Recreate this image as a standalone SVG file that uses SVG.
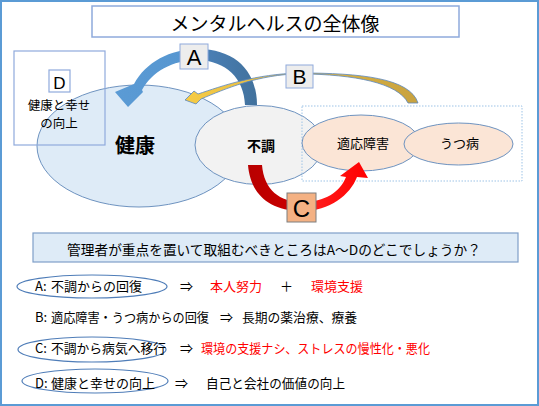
<svg xmlns="http://www.w3.org/2000/svg" width="539" height="406" viewBox="0 0 539 406">
<defs>
<style>
.jp{font-family:"Noto Sans CJK JP","Noto Sans",sans-serif;fill:#000}
.lat{font-family:"Liberation Sans","Noto Sans",sans-serif;fill:#000}
.red{fill:#FF0000}
.node{stroke:#6E93C0;stroke-width:1}
.lbl{stroke:#8FAADC;stroke-width:1.2}
.ring{fill:none;stroke:#4F7DB8;stroke-width:1.2}
</style>
<linearGradient id="gA" gradientUnits="userSpaceOnUse" x1="112" y1="0" x2="258" y2="0">
<stop offset="0" stop-color="#5B9BD5"/><stop offset="0.5" stop-color="#5696D0"/><stop offset="0.65" stop-color="#4A7FB5"/><stop offset="1" stop-color="#41719C"/>
</linearGradient>
<linearGradient id="gB" gradientUnits="userSpaceOnUse" x1="185" y1="0" x2="418" y2="0">
<stop offset="0" stop-color="#F6CB45"/><stop offset="1" stop-color="#C8A23F"/>
</linearGradient>
<linearGradient id="gC" gradientUnits="userSpaceOnUse" x1="248" y1="0" x2="368" y2="0">
<stop offset="0" stop-color="#B80000"/><stop offset="0.42" stop-color="#CC0000"/><stop offset="0.58" stop-color="#FF1A1A"/><stop offset="1" stop-color="#FF0000"/>
</linearGradient>
</defs>

<rect x="1" y="1" width="537" height="404" fill="#FFFFFF" stroke="#5B9BD5" stroke-width="2"/>

<g id="title">
<rect x="92" y="6" width="367" height="31" fill="#FFFFFF" stroke="#8FAADC" stroke-width="1.5"/>
<text class="jp" x="275" y="31" font-size="19" text-anchor="middle">メンタルヘルスの全体像</text>
</g>

<g id="node-health">
<ellipse cx="139" cy="146" rx="102" ry="61" fill="#DEEBF7" class="node"/>
<text class="jp" x="135" y="153" font-size="20" font-weight="bold" text-anchor="middle">健康</text>
</g>

<g id="node-d">
<rect x="14" y="51" width="91" height="94" fill="none" class="lbl"/>
<rect x="49" y="70" width="21" height="22" fill="#FFFFFF" class="lbl"/>
<text class="lat" x="59.5" y="88.5" font-size="17" text-anchor="middle">D</text>
<text class="jp" x="59" y="110" font-size="12.5" text-anchor="middle">健康と幸せ</text>
<text class="jp" x="59" y="128" font-size="12.5" text-anchor="middle">の向上</text>
</g>

<g id="node-fucho">
<ellipse cx="259" cy="145" rx="64" ry="39.5" fill="#F2F2F2" class="node"/>
<text class="jp" x="261" y="151" font-size="14" font-weight="bold" text-anchor="middle">不調</text>
</g>

<g id="group-illness">
<rect x="302" y="106" width="220" height="75" fill="none" stroke="#9DC3E6" stroke-width="1" stroke-dasharray="1.5,1.5"/>
</g>

<g id="node-tekiou">
<ellipse cx="361" cy="143" rx="59" ry="28" fill="#FBE5D6" class="node"/>
<text class="jp" x="363" y="148" font-size="13" text-anchor="middle">適応障害</text>
</g>

<g id="node-utsu">
<ellipse cx="458.5" cy="144" rx="54.5" ry="21" fill="#FBE5D6" class="node"/>
<text class="jp" x="459.5" y="148" font-size="13" text-anchor="middle">うつ病</text>
</g>

<g id="connectors">
<path id="arrow-a" fill="url(#gA)" d="M257,105 C257,72 236,49 198,49 C170,49 146,62 134,84 L115,92 L128,107 L143,92 L142,90 C152,72 172,60 198,60 C226,61 244,78 245,105 Z"/>
<path id="arrow-b" fill="url(#gB)" stroke="#5B87BD" stroke-width="0.8" stroke-linejoin="round" d="M418,103 C410,78 360,73 300,73 C255,74 222,86 198,94 L194,91 L185,100 L196,104 L201,99 C225,89 258,74.5 300,73.8 C355,74.5 398,83 408,103 Z"/>
<path id="arrow-c" fill="url(#gC)" d="M248,165 C250,190 265,211 302,211 C330,211 350,195 357,177 L368,178 L359,162 L340,176 L346,177 C340,192 325,202 302,202 C280,202 264,190 262,165 Z"/>
</g>

<g id="label-a">
<rect x="180" y="44" width="28" height="25" fill="#EDEDED" stroke="#8FAADC" stroke-width="1"/>
<text class="lat" x="194" y="65" font-size="22" text-anchor="middle">A</text>
</g>
<g id="label-b">
<rect x="286" y="65" width="27" height="23" fill="#EDEDED" stroke="#8FAADC" stroke-width="1"/>
<text class="lat" x="299.5" y="84" font-size="21" text-anchor="middle">B</text>
</g>
<g id="label-c">
<rect x="287" y="193" width="29" height="29" fill="#F4B183" stroke="#7F7F7F" stroke-width="1"/>
<text class="lat" x="301.5" y="216.5" font-size="24" text-anchor="middle">C</text>
</g>

<g id="question">
<rect x="33" y="233" width="485" height="29" fill="#DEEBF7" stroke="#7F9FC8" stroke-width="1.2"/>
<text class="jp" x="274" y="255" font-size="13.7" text-anchor="middle">管理者が重点を置いて取組むべきところはA～Dのどこでしょうか？</text>
</g>

<g id="row-a">
<ellipse cx="92" cy="286.5" rx="75" ry="11.5" class="ring"/>
<text class="jp" x="35" y="291" font-size="13">A:<tspan x="51">不調からの回復</tspan></text>
<text class="jp" x="180" y="291" font-size="13">⇒</text>
<text class="jp red" x="210" y="291" font-size="13">本人努力</text>
<text class="jp" x="280" y="291" font-size="13">＋</text>
<text class="jp red" x="311" y="291" font-size="13">環境支援</text>
</g>

<g id="row-b">
<text class="jp" x="35" y="322" font-size="13">B:</text>
<text class="jp" x="51" y="322" font-size="12.6" textLength="158" lengthAdjust="spacingAndGlyphs">適応障害・うつ病からの回復</text>
<text class="jp" x="220" y="322" font-size="13">⇒</text>
<text class="jp" x="242" y="322" font-size="12.8" textLength="115">長期の薬治療、療養</text>
</g>

<g id="row-c">
<ellipse cx="92" cy="349.5" rx="74" ry="12.5" class="ring"/>
<text class="jp" x="35" y="353" font-size="13">C:</text>
<text class="jp" x="51" y="353" font-size="12.8" textLength="115">不調から病気へ移行</text>
<text class="jp" x="180" y="353" font-size="13">⇒</text>
<text class="jp red" x="201" y="353" font-size="12.7" textLength="229" lengthAdjust="spacingAndGlyphs">環境の支援ナシ、ストレスの慢性化・悪化</text>
</g>

<g id="row-d">
<ellipse cx="95" cy="381" rx="73" ry="12" class="ring"/>
<text class="jp" x="35" y="388" font-size="13">D:<tspan x="51">健康と幸せの向上</tspan></text>
<text class="jp" x="175" y="388" font-size="13">⇒</text>
<text class="jp" x="206" y="388" font-size="12.6" textLength="139">自己と会社の価値の向上</text>
</g>
</svg>
